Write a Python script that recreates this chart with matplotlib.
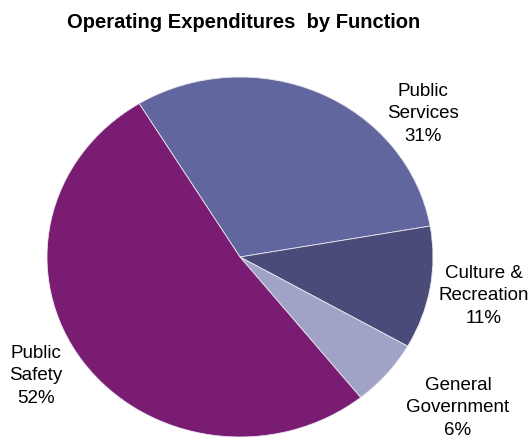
import matplotlib
matplotlib.use("Agg")
import matplotlib.pyplot as plt

categories = ["Public\nServices", "Culture &\nRecreation", "General\nGovernment", "Public\nSafety"]
shares = [31, 11, 6, 52]
colors = ["#62669E", "#4A4B78", "#A0A3C6", "#7A1D72"]
# label centres in pixels (x from left, y from top)
label_pos = [(423, 114), (484, 296), (458, 408), (36, 376)]

W, H = 531, 442
fig = plt.figure(figsize=(W / 100, H / 100), dpi=100)
plt.rcParams["font.family"] = ["Liberation Sans", "DejaVu Sans"]

cx, cy = 240, 257
rx, ry = 193, 180
ax = fig.add_axes([(cx - rx) / W, (H - cy - ry) / H, 2 * rx / W, 2 * ry / H])
ax.pie(shares, colors=colors, startangle=121.5, counterclock=False,
       radius=1, wedgeprops=dict(edgecolor="#E8E8F0", linewidth=0.6))
ax.set_aspect("auto")
ax.set_xlim(-1, 1)
ax.set_ylim(-1, 1)
ax.axis("off")

fig.text(244 / W, 1 - 23 / H, "Operating Expenditures  by Function",
         ha="center", va="center", fontsize=14.5, fontweight="bold")

for name, val, (px, py) in zip(categories, shares, label_pos):
    fig.text(px / W, 1 - py / H, f"{name}\n{val}%", ha="center", va="center",
             fontsize=13.5, linespacing=1.45)

fig.savefig("out.png", dpi=100)
